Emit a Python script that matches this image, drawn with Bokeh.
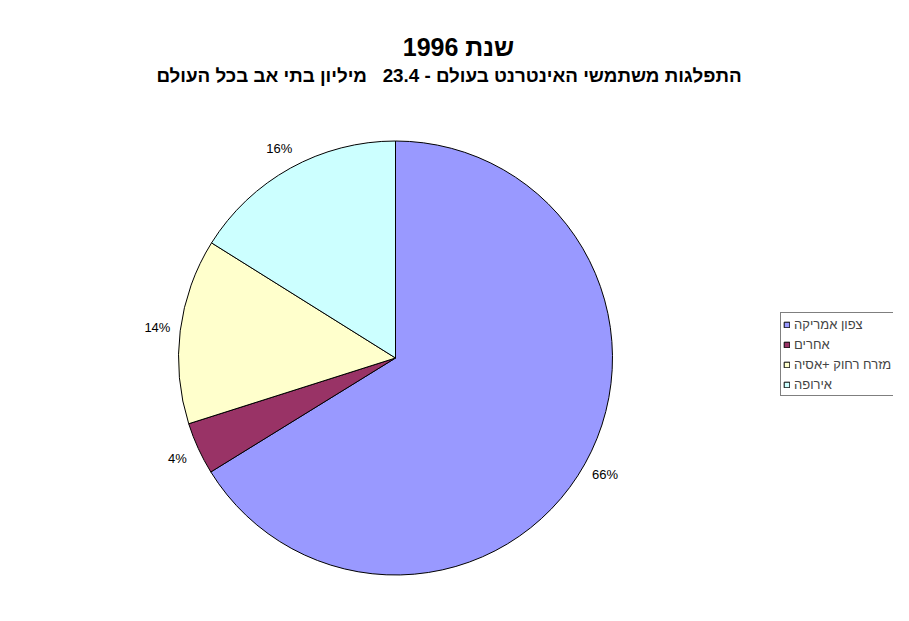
import math
from bokeh.plotting import figure
from bokeh.models import ColumnDataSource, Range1d, Legend, LegendItem
from bokeh.core.properties import value
from bokeh.embed import file_html
from bokeh.resources import INLINE

title_text = "שנת 1996"
subtitle_text = "התפלגות משתמשי האינטרנט בעולם - 23.4\u00a0\u00a0 מיליון בתי אב בכל העולם"
categories = ["צפון אמריקה", "אחרים", "מזרח רחוק +אסיה", "אירופה"]
values = [66.2, 3.9, 13.8, 16.1]
colors = ["#9999FF", "#993366", "#FFFFCC", "#CCFFFF"]

W, H = 893, 605
cx, cy, R = 395, 247.5, 217
label_r = 240

total = sum(values)
starts, ends, lx, ly, labels = [], [], [], [], []
acc = 0.0
for v in values:
    a0 = math.pi / 2 - 2 * math.pi * acc / total
    a1 = math.pi / 2 - 2 * math.pi * (acc + v) / total
    starts.append(a0)
    ends.append(a1)
    mid = (a0 + a1) / 2
    lx.append(cx + label_r * math.cos(mid))
    ly.append(cy + label_r * math.sin(mid))
    labels.append(f"{round(v / total * 100):.0f}%")
    acc += v

src = ColumnDataSource(dict(cat=categories, val=values, start=starts, end=ends,
                            color=colors, lx=lx, ly=ly, lab=labels))

p = figure(width=W, height=H, output_backend="svg", toolbar_location=None,
           x_range=Range1d(0, W), y_range=Range1d(0, H),
           x_axis_type=None, y_axis_type=None, min_border=0,
           background_fill_color="white", border_fill_color="white")
p.outline_line_color = None
p.grid.visible = False

wr = p.wedge(x=cx, y=cy, radius=R, start_angle="start", end_angle="end",
             direction="clock", fill_color="color", line_color="black",
             line_width=1, source=src)

p.text(x="lx", y="ly", text="lab", source=src, text_align="center",
       text_baseline="middle", text_font=value("Liberation Sans"),
       text_font_size="13px", text_color="black")

p.text(x=[458], y=[H - 46], text=[title_text], text_align="center",
       text_baseline="middle", text_font=value("Liberation Sans"),
       text_font_size="25px", text_font_style="bold", text_color="black")
p.text(x=[448.5], y=[H - 75], text=[subtitle_text], text_align="center",
       text_baseline="middle", text_font=value("Liberation Sans"),
       text_font_size="18.8px", text_font_style="bold", text_color="black")

items = [LegendItem(label=c, renderers=[wr], index=i) for i, c in enumerate(categories)]
legend = Legend(items=items, location=(780, H - 396), margin=0, padding=2, spacing=2,
                label_height=18, glyph_height=7, glyph_width=7, label_standoff=4,
                label_text_font="Liberation Sans", label_text_font_size="13px",
                border_line_color="black", border_line_width=1,
                background_fill_color="white", background_fill_alpha=1)
p.add_layout(legend, "center")

open("out.html", "w").write(file_html(p, INLINE))
